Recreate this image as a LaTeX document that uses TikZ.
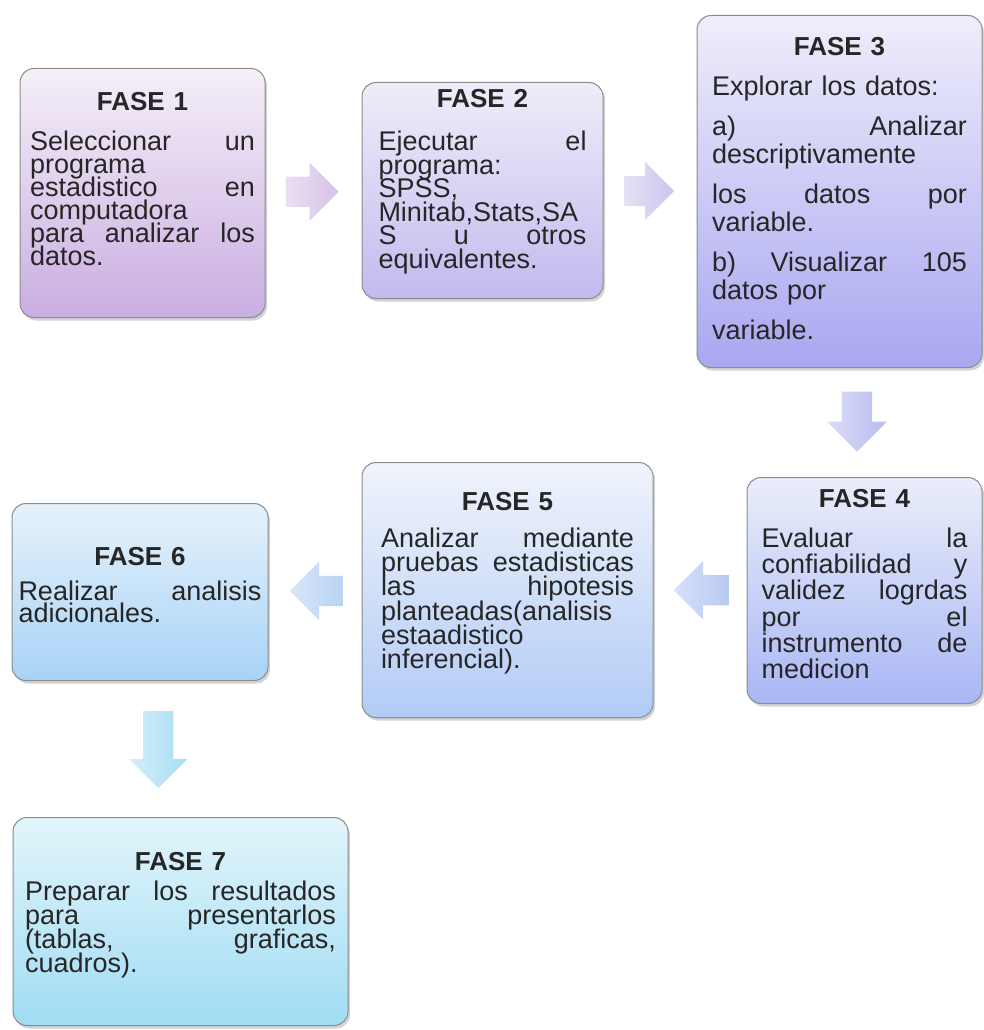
\documentclass[tikz,border=0pt]{standalone}
\usepackage{fontspec}
\setmainfont{Liberation Sans}
\usetikzlibrary{shapes.arrows,shadows,calc}

%% colores de las fases
\definecolor{f1top}{HTML}{F5EFF8}
\definecolor{f1bot}{HTML}{C9AEE1}
\definecolor{f2top}{HTML}{F0ECF9}
\definecolor{f2bot}{HTML}{C2BAEF}
\definecolor{f3top}{HTML}{EFEEFB}
\definecolor{f3bot}{HTML}{A9A7F0}
\definecolor{f4top}{HTML}{EAEEFB}
\definecolor{f4bot}{HTML}{A9B6F4}
\definecolor{f5top}{HTML}{F0F4FC}
\definecolor{f5bot}{HTML}{B2CBF6}
\definecolor{f6top}{HTML}{E6F2FB}
\definecolor{f6bot}{HTML}{A8D3F6}
\definecolor{f7top}{HTML}{E2F5FB}
\definecolor{f7bot}{HTML}{A0DCF4}
%% colores de las flechas
\definecolor{a12a}{HTML}{EAE0F3}
\definecolor{a12b}{HTML}{D4C2EA}
\definecolor{a23a}{HTML}{E6E0F5}
\definecolor{a23b}{HTML}{CCC5EE}
\definecolor{a34a}{HTML}{DCDCF7}
\definecolor{a34b}{HTML}{B8BCF0}
\definecolor{a45a}{HTML}{D6E0F7}
\definecolor{a45b}{HTML}{B9C9F2}
\definecolor{a56a}{HTML}{D8E6F8}
\definecolor{a56b}{HTML}{B9D4F4}
\definecolor{a67a}{HTML}{D4EFFA}
\definecolor{a67b}{HTML}{A9DCF4}

\newcommand{\jl}[1]{\makebox[\hsize][s]{\spaceskip=.28em plus 1fil\relax #1}}
\newcommand{\fase}[1]{\makebox[\hsize][c]{\fontsize{26}{23}\selectfont\bfseries FASE #1}}

\begin{document}
\begin{tikzpicture}[x=1pt, y=-1pt,
  caja/.style={draw=black!45, line width=1pt, rounded corners=14pt,
    inner sep=0pt, text=black!85,
    font=\fontsize{27}{#1}\selectfont\lineskiplimit-50pt\relax,
    drop shadow={shadow xshift=2pt, shadow yshift=-3pt, opacity=0.35}},
  flecha/.style={single arrow, single arrow head extend=14pt,
    inner xsep=0pt, inner ysep=15pt, draw=none, anchor=tail}]
\useasboundingbox (0,0) rectangle (983,1030);

%% fila superior
\node[caja=23, top color=f1top, bottom color=f1bot, anchor=north,
      minimum width=245pt, text width=225pt, text height=42pt, text depth=207pt]
  (f1) at (142.5,68) {\fase{1}\\[17pt]
  \jl{Seleccionar un}\\
  programa\\
  \jl{estadistico en}\\
  computadora\\
  \jl{para analizar los}\\
  datos.};

\node[caja=23.6, top color=f2top, bottom color=f2bot, anchor=north,
      minimum width=241pt, text width=208pt, text height=25pt, text depth=191pt]
  (f2) at (482.5,82) {\fase{2}\\[19.4pt]
  \jl{Ejecutar el}\\
  programa:\\
  SPSS,\\
  Minitab,Stats,SA\\
  \jl{S u otros}\\
  equivalentes.};

\node[caja=28, top color=f3top, bottom color=f3bot, anchor=north,
      minimum width=285pt, text width=255pt, text height=40pt, text depth=312pt]
  (f3) at (839.5,15) {\fase{3}\\[12pt]
  Explorar los datos:\\[12pt]
  \jl{a) Analizar}\\
  descriptivamente\\[12pt]
  \jl{los datos por}\\
  variable.\\[12pt]
  \jl{b) Visualizar 105}\\
  datos por\\[12pt]
  variable.};

%% fila del medio
\node[caja=26.2, top color=f4top, bottom color=f4bot, anchor=north,
      minimum width=235pt, text width=206pt, text height=30pt, text depth=196pt]
  (f4) at (864.5,477) {\fase{4}\\[13.8pt]
  \jl{Evaluar la}\\
  \jl{confiabilidad y}\\
  \jl{validez logrdas}\\
  \jl{por el}\\
  \jl{instrumento de}\\
  medicion};

\node[caja=24.2, top color=f5top, bottom color=f5bot, anchor=north,
      minimum width=291pt, text width=253pt, text height=48pt, text depth=207pt]
  (f5) at (507.5,462) {\fase{5}\\[12.8pt]
  \jl{Analizar mediante}\\
  \jl{pruebas estadisticas}\\
  \jl{las hipotesis}\\
  planteadas(analisis\\
  estaadistico\\
  inferencial).};

\node[caja=22, top color=f6top, bottom color=f6bot, anchor=north,
      minimum width=256pt, text width=243pt, text height=62pt, text depth=115pt]
  (f6) at (140,503) {\fase{6}\\[13pt]
  \jl{Realizar analisis}\\
  adicionales.};

%% fila inferior
\node[caja=24, top color=f7top, bottom color=f7bot, anchor=north,
      minimum width=335pt, text width=311pt, text height=53pt, text depth=155pt]
  (f7) at (180.5,817) {\fase{7}\\[6pt]
  \jl{Preparar los resultados}\\
  \jl{para presentarlos}\\
  \jl{(tablas, graficas,}\\
  cuadros).};

%% flechas
\node[flecha, minimum height=53pt, left color=a12a, right color=a12b]
  (a12) at ($(f1.east)!0.5!(f2.west)+(-28,0)$) {};
\node[flecha, minimum height=50pt, left color=a23a, right color=a23b]
  (a23) at ($(f2.east)!0.5!(f3.west)+(-26,0)$) {};
\node[flecha, minimum height=60pt, single arrow head extend=15pt, rotate=-90,
      left color=a34a, right color=a34b]
  (a34) at ($(f3.south)!0.5!(f4.north)+(5,-31)$) {};
\node[flecha, minimum height=55pt, rotate=180, left color=a45a, right color=a45b]
  (a45) at ($(f4.west)!0.5!(f5.east)+(29,0)$) {};
\node[flecha, minimum height=53pt, rotate=180, left color=a56a, right color=a56b]
  (a56) at ($(f5.west)!0.5!(f6.east)+(28,0)$) {};
\node[flecha, minimum height=77pt, rotate=-90, left color=a67a, right color=a67b]
  (a67) at ($(f6.south)!0.5!(f7.north)+(-2,-38)$) {};
\end{tikzpicture}
\end{document}
